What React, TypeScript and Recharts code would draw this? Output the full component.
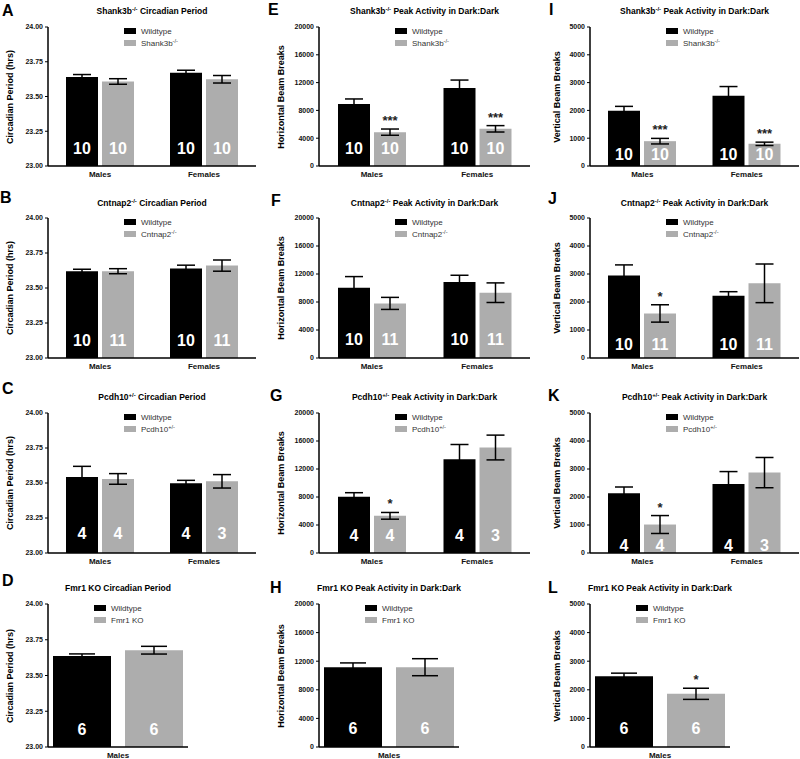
import React from "react";
import { BarChart, Bar, XAxis, YAxis, ErrorBar, LabelList, Legend } from "recharts";

const FONT = "'Liberation Sans', Arial, Helvetica, sans-serif";
const WT_COLOR = "#000000";
const KO_COLOR = "#adadad";

const sexes = ["Males", "Females"];
const malesOnly = ["Males"];

// animals per group: [wildtype, mutant] for each sex
const shankN = [[10, 10], [10, 10]];
const cntnapN = [[10, 11], [10, 11]];
const pcdhN = [[4, 4], [4, 3]];
const fmrN = [[6, 6]];

// [mean, sem] for each sex
const shankPeriodWT = [[23.641, 0.017], [23.67, 0.019]];
const shankPeriodKO = [[23.608, 0.02], [23.624, 0.027]];
const cntnapPeriodWT = [[23.62, 0.014], [23.64, 0.023]];
const cntnapPeriodKO = [[23.62, 0.018], [23.66, 0.04]];
const pcdhPeriodWT = [[23.543, 0.076], [23.498, 0.021]];
const pcdhPeriodKO = [[23.529, 0.038], [23.512, 0.048]];
const fmrPeriodWT = [[23.637, 0.014]];
const fmrPeriodKO = [[23.677, 0.027]];

const shankHorizWT = [[8930, 716], [11220, 1146]];
const shankHorizKO = [[4870, 450], [5350, 460]];
const cntnapHorizWT = [[10050, 1580], [10860, 960]];
const cntnapHorizKO = [[7800, 860], [9330, 1400]];
const pcdhHorizWT = [[8040, 575], [13400, 2100]];
const pcdhHorizKO = [[5310, 480], [15070, 1770]];
const fmrHorizWT = [[11160, 600]];
const fmrHorizKO = [[11160, 1190]];

const shankVertWT = [[1990, 155], [2525, 333]];
const shankVertKO = [[893, 100], [798, 60]];
const cntnapVertWT = [[2943, 382], [2225, 143]];
const cntnapVertKO = [[1591, 310], [2667, 690]];
const pcdhVertWT = [[2130, 227], [2465, 443]];
const pcdhVertKO = [[1017, 320], [2871, 540]];
const fmrVertWT = [[2477, 105]];
const fmrVertKO = [[1860, 195]];

// significance vs wildtype
const shankHorizSig = ["***", "***"];
const shankVertSig = ["***", "***"];
const pcdhHorizSig = ["*", ""];
const cntnapVertSig = ["*", ""];
const pcdhVertSig = ["*", ""];
const fmrVertSig = ["*"];

const periodTicks = [23, 23.25, 23.5, 23.75, 24];
const horizTicks = [0, 4000, 8000, 12000, 16000, 20000];
const vertTicks = [0, 1000, 2000, 3000, 4000, 5000];

function buildRows(cats: string[], wt: number[][], ko: number[][], n: number[][], sig?: string[]) {
  return cats.map((c, i) => ({
    sex: c,
    wt: wt[i][0],
    wtErr: wt[i][1],
    ko: ko[i][0],
    koErr: ko[i][1],
    nWt: n[i][0],
    nKo: n[i][1],
    sig: sig ? sig[i] : "",
  }));
}

const KINDS: Record<string, any> = {
  period: { domain: [23, 24], ticks: periodTicks, fmt: (v: number) => v.toFixed(2), label: "Circadian Period (hrs)", base: 23 },
  horiz: { domain: [0, 20000], ticks: horizTicks, fmt: (v: number) => String(v), label: "Horizontal Beam Breaks", base: 0 },
  vert: { domain: [0, 5000], ticks: vertTicks, fmt: (v: number) => String(v), label: "Vertical Beam Breaks", base: 0 },
};

const COLS = [
  { left: 0, width: 265, axisX: 48, plotW: 208, labelX: 10 },
  { left: 265, width: 270, axisX: 54, plotW: 211, labelX: 16 },
  { left: 535, width: 265, axisX: 55, plotW: 209, labelX: 22 },
];
const ROWS = [
  { top: 0, plotTop: 27, plotBottom: 166, titleY: 11 },
  { top: 190, plotTop: 28, plotBottom: 168, titleY: 13 },
  { top: 380, plotTop: 33, plotBottom: 173, titleY: 17 },
  { top: 570, plotTop: 34, plotBottom: 177, titleY: 18 },
];

const PANELS = [
  { id: "A", col: 0, row: 0, kind: "period", title: "Shank3b^-/- Circadian Period", ko: "Shank3b^-/-", data: buildRows(sexes, shankPeriodWT, shankPeriodKO, shankN), letter: [2, 5], nLift: 18 },
  { id: "B", col: 0, row: 1, kind: "period", title: "Cntnap2^-/- Circadian Period", ko: "Cntnap2^-/-", data: buildRows(sexes, cntnapPeriodWT, cntnapPeriodKO, cntnapN), letter: [0, 192], nLift: 18 },
  { id: "C", col: 0, row: 2, kind: "period", title: "Pcdh10^+/- Circadian Period", ko: "Pcdh10^+/-", data: buildRows(sexes, pcdhPeriodWT, pcdhPeriodKO, pcdhN), letter: [2, 383], nLift: 20 },
  { id: "D", col: 0, row: 3, kind: "period", title: "Fmr1 KO Circadian Period", ko: "Fmr1 KO", data: buildRows(malesOnly, fmrPeriodWT, fmrPeriodKO, fmrN), letter: [2, 575], nLift: 18 },
  { id: "E", col: 1, row: 0, kind: "horiz", title: "Shank3b^-/- Peak Activity in Dark:Dark", ko: "Shank3b^-/-", data: buildRows(sexes, shankHorizWT, shankHorizKO, shankN, shankHorizSig), letter: [268, 4], nLift: 18 },
  { id: "F", col: 1, row: 1, kind: "horiz", title: "Cntnap2^-/- Peak Activity in Dark:Dark", ko: "Cntnap2^-/-", data: buildRows(sexes, cntnapHorizWT, cntnapHorizKO, cntnapN), letter: [271, 195], nLift: 19 },
  { id: "G", col: 1, row: 2, kind: "horiz", title: "Pcdh10^+/- Peak Activity in Dark:Dark", ko: "Pcdh10^+/-", data: buildRows(sexes, pcdhHorizWT, pcdhHorizKO, pcdhN, pcdhHorizSig), letter: [270, 390], nLift: 18 },
  { id: "H", col: 1, row: 3, kind: "horiz", title: "Fmr1 KO Peak Activity in Dark:Dark", ko: "Fmr1 KO", data: buildRows(malesOnly, fmrHorizWT, fmrHorizKO, fmrN), letter: [270, 582], nLift: 19 },
  { id: "I", col: 2, row: 0, kind: "vert", title: "Shank3b^-/- Peak Activity in Dark:Dark", ko: "Shank3b^-/-", data: buildRows(sexes, shankVertWT, shankVertKO, shankN, shankVertSig), letter: [549, 4], nLift: 12 },
  { id: "J", col: 2, row: 1, kind: "vert", title: "Cntnap2^-/- Peak Activity in Dark:Dark", ko: "Cntnap2^-/-", data: buildRows(sexes, cntnapVertWT, cntnapVertKO, cntnapN, cntnapVertSig), letter: [548, 193], nLift: 14 },
  { id: "K", col: 2, row: 2, kind: "vert", title: "Pcdh10^+/- Peak Activity in Dark:Dark", ko: "Pcdh10^+/-", data: buildRows(sexes, pcdhVertWT, pcdhVertKO, pcdhN, pcdhVertSig), letter: [548, 390], nLift: 8 },
  { id: "L", col: 2, row: 3, kind: "vert", title: "Fmr1 KO Peak Activity in Dark:Dark", ko: "Fmr1 KO", data: buildRows(malesOnly, fmrVertWT, fmrVertKO, fmrN, fmrVertSig), letter: [548, 582], nLift: 19 },
];

// "Name^sup rest" -> Name, superscript up to the next space, then the rest
function sup(s: string) {
  const [base, tail] = s.split("^");
  if (!tail) return <>{base}</>;
  const sp = tail.indexOf(" ");
  const exp = sp < 0 ? tail : tail.slice(0, sp);
  const rest = sp < 0 ? "" : tail.slice(sp);
  return (
    <>
      {base}
      <span style={{ fontSize: "0.7em", position: "relative", top: "-0.45em" }}>{exp}</span>
      {rest}
    </>
  );
}

const box = (props: any) => {
  const vb = props.viewBox || props;
  return { x: vb.x ?? props.x, y: vb.y ?? props.y, w: vb.width ?? props.width, h: vb.height ?? props.height };
};

const nLabel = (lift: number) => (props: any) => {
  const { x, y, w, h } = box(props);
  return (
    <text x={x + w / 2} y={y + h - lift + 6} textAnchor="middle" fill="#fff" fontSize={16} fontWeight="bold" fontFamily={FONT}>
      {props.value}
    </text>
  );
};

const sigLabel = (data: any[], base: number) => (props: any) => {
  const r = data[props.index];
  if (!r || !r.sig) return null;
  const { x, y, w, h } = box(props);
  const per = h / (r.ko - base);
  const top = y - r.koErr * per;
  return (
    <text x={x + w / 2} y={top - 4} textAnchor="middle" fill="#222" fontSize={13} fontWeight="bold" fontFamily={FONT}>
      {r.sig}
    </text>
  );
};

const legendContent = (props: any) => {
  const items = [...(props.payload || [])].sort((a: any, b: any) => (a.dataKey === "wt" ? -1 : b.dataKey === "wt" ? 1 : 0));
  return (
    <div style={{ fontFamily: FONT, fontSize: 8, color: "#333", whiteSpace: "nowrap" }}>
      {items.map((e: any, i: number) => (
        <div key={i} style={{ display: "flex", alignItems: "center", height: 12 }}>
          <span style={{ display: "inline-block", width: 12, height: 6, background: e.color, marginRight: 5 }} />
          <span>{sup(String(e.value))}</span>
        </div>
      ))}
    </div>
  );
};

function Panel({ p }: { p: any }) {
  const col = COLS[p.col];
  const row = ROWS[p.row];
  const k = KINDS[p.kind];
  const single = p.data.length === 1;
  const H = 190;
  const xAxisH = 12;
  const plotW = single ? 140 : col.plotW;
  const plotLeft = col.axisX;
  const plotRight = col.axisX + plotW;
  const cap = single ? 13 : 9;
  const tickStyle = { fontSize: 7, fontWeight: "bold", fill: "#111", fontFamily: FONT };

  return (
    <div style={{ position: "absolute", left: col.left, top: row.top, width: col.width, height: H }}>
      <div style={{ position: "absolute", left: p.letter[0] - col.left, top: p.letter[1] - row.top - 2, fontSize: 16, lineHeight: "16px", fontWeight: "bold", fontFamily: FONT }}>
        {p.id}
      </div>
      <div style={{ position: "absolute", left: (plotLeft + plotRight) / 2, top: row.titleY, transform: "translate(-50%, -50%)", fontSize: 8.5, fontWeight: "bold", whiteSpace: "nowrap", fontFamily: FONT }}>
        {sup(p.title)}
      </div>
      <div style={{ position: "absolute", left: col.labelX, top: (row.plotTop + row.plotBottom) / 2, transform: "translate(-50%, -50%) rotate(-90deg)", fontSize: 9, fontWeight: "bold", whiteSpace: "nowrap", fontFamily: FONT }}>
        {k.label}
      </div>
      <BarChart
        width={col.width}
        height={H}
        data={p.data}
        barSize={single ? 58 : 32}
        barGap={single ? 14 : 4}
        margin={{ top: row.plotTop, right: col.width - plotRight, bottom: H - row.plotBottom - xAxisH, left: 0 }}
        style={{ position: "absolute", left: 0, top: 0 }}
      >
        <XAxis
          dataKey="sex"
          height={xAxisH}
          interval={0}
          tickLine={false}
          tickSize={0}
          tickMargin={5}
          axisLine={{ stroke: "#000", strokeWidth: 1.5 }}
          tick={{ fontSize: 8, fontWeight: "bold", fill: "#111", fontFamily: FONT }}
        />
        <YAxis
          type="number"
          domain={k.domain}
          ticks={k.ticks}
          interval={0}
          width={col.axisX}
          tickFormatter={k.fmt}
          tickSize={3}
          tickMargin={2}
          axisLine={{ stroke: "#000", strokeWidth: 1.5 }}
          tickLine={{ stroke: "#000", strokeWidth: 1 }}
          tick={tickStyle}
        />
        <Legend
          layout="vertical"
          align="center"
          verticalAlign="middle"
          wrapperStyle={{ left: plotLeft + (single ? 46 : 76), top: row.plotTop - 2, width: "auto", height: "auto" }}
          content={legendContent}
        />
        <Bar dataKey="wt" name="Wildtype" fill={WT_COLOR} isAnimationActive={false}>
          <ErrorBar dataKey="wtErr" width={cap} stroke="#000" strokeWidth={1.5} direction="y" />
          <LabelList dataKey="nWt" content={nLabel(p.nLift)} />
        </Bar>
        <Bar dataKey="ko" name={p.ko} fill={KO_COLOR} isAnimationActive={false}>
          <ErrorBar dataKey="koErr" width={cap} stroke="#000" strokeWidth={1.5} direction="y" />
          <LabelList dataKey="nKo" content={nLabel(p.nLift)} />
          <LabelList dataKey="sig" content={sigLabel(p.data, k.base)} />
        </Bar>
      </BarChart>
    </div>
  );
}

export default function App() {
  return (
    <div style={{ position: "absolute", left: 0, top: 0, width: 800, height: 759, background: "#fff", fontFamily: FONT, overflow: "hidden" }}>
      {PANELS.map((p) => (
        <Panel key={p.id} p={p} />
      ))}
    </div>
  );
}
